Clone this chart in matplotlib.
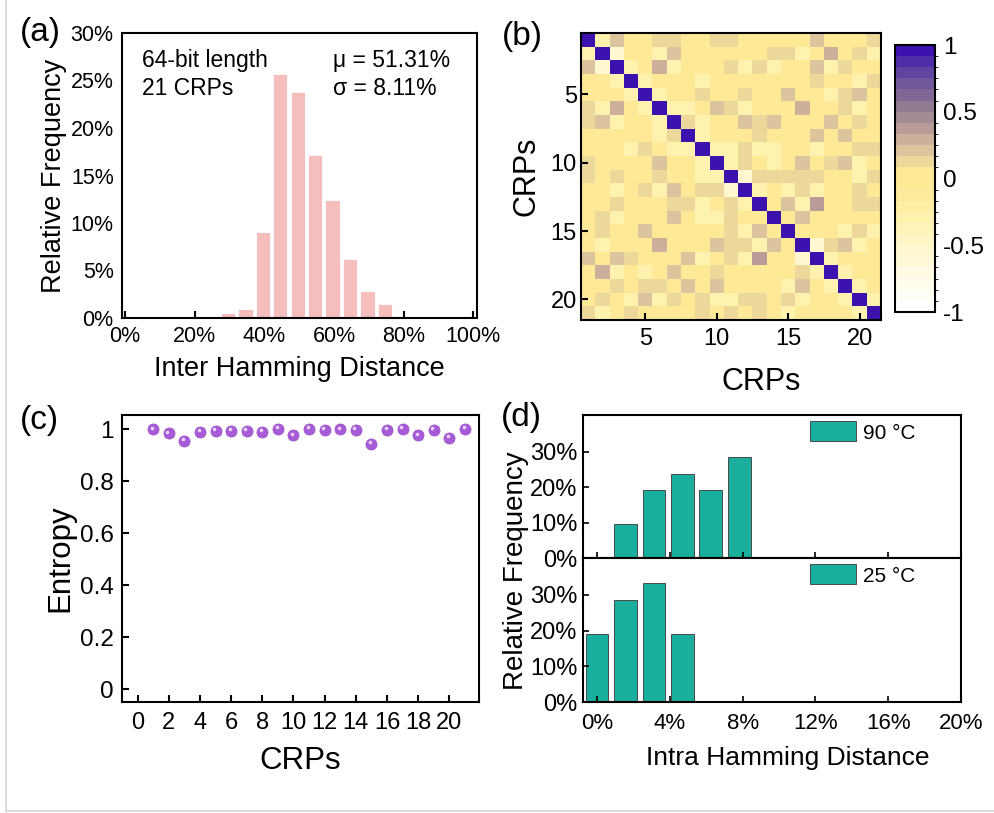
import numpy as np
import matplotlib
matplotlib.use("Agg")
import matplotlib.pyplot as plt
from matplotlib.colors import ListedColormap, BoundaryNorm
from matplotlib.patches import Patch
from matplotlib.lines import Line2D
from matplotlib.transforms import offset_copy

plt.rcParams['font.family'] = ['Liberation Sans', 'DejaVu Sans']
plt.rcParams['axes.linewidth'] = 1.5

# ---------------- data ----------------
# (a) inter Hamming distance histogram (bin centres in %, relative frequency in %)
inter_hd_centers = [29.6, 34.6, 39.6, 44.6, 49.6, 54.6, 59.6, 64.6, 69.6, 74.6]
inter_hd_freq = [0.48, 0.95, 9.05, 25.71, 23.81, 17.14, 12.38, 6.19, 2.86, 1.43]
inter_mu = "51.31%"
inter_sigma = "8.11%"

# (b) correlation between the 21 CRPs
crp_corr = np.array([
    [1.00, -0.28, 0.21, 0.02, 0.02, 0.12, 0.12, 0.02, 0.02, 0.12, 0.12, 0.02, 0.02, 0.02, 0.02, 0.02, 0.21, 0.02, 0.02, 0.02, 0.12],
    [-0.28, 1.00, -0.55, 0.02, 0.02, -0.28, 0.21, 0.02, 0.02, 0.02, 0.02, 0.02, 0.02, 0.12, 0.12, -0.28, 0.02, 0.29, 0.02, 0.12, -0.28],
    [0.21, -0.55, 1.00, -0.28, 0.02, 0.29, -0.28, 0.02, 0.02, 0.02, 0.12, -0.28, 0.12, -0.28, 0.02, 0.02, 0.21, -0.28, 0.12, 0.02, 0.02],
    [0.02, 0.02, -0.28, 1.00, -0.28, 0.02, 0.02, 0.02, -0.28, 0.02, 0.02, 0.02, 0.02, 0.02, 0.02, 0.02, 0.12, 0.02, 0.02, -0.28, 0.12],
    [0.02, 0.02, 0.02, -0.28, 1.00, -0.28, 0.02, 0.02, 0.12, 0.02, 0.02, 0.12, 0.02, 0.02, 0.21, 0.02, 0.02, -0.28, 0.12, 0.21, 0.02],
    [0.12, -0.28, 0.29, 0.02, -0.28, 1.00, -0.28, -0.28, 0.02, 0.21, 0.12, -0.28, 0.02, 0.02, 0.02, 0.29, 0.02, 0.02, 0.12, -0.28, 0.02],
    [0.12, 0.21, -0.28, 0.02, 0.02, -0.28, 1.00, 0.12, -0.28, 0.02, 0.02, 0.21, 0.12, 0.21, 0.02, 0.02, 0.02, 0.21, 0.02, 0.12, 0.02],
    [0.02, 0.02, 0.02, 0.02, 0.02, -0.28, 0.12, 1.00, -0.28, 0.02, 0.02, 0.02, 0.12, 0.02, 0.02, 0.02, 0.21, 0.02, 0.21, 0.02, 0.02],
    [0.02, 0.02, 0.02, -0.28, 0.12, 0.02, -0.28, -0.28, 1.00, -0.28, -0.28, 0.12, -0.28, -0.28, 0.02, 0.02, -0.28, 0.02, 0.02, 0.12, 0.12],
    [0.12, 0.02, 0.02, 0.02, 0.02, 0.21, 0.02, 0.02, -0.28, 1.00, -0.28, 0.12, 0.02, -0.28, 0.02, 0.21, 0.02, 0.12, 0.21, -0.28, 0.02],
    [0.12, 0.02, 0.12, 0.02, 0.02, 0.12, 0.02, 0.02, -0.28, -0.28, 1.00, -0.55, 0.12, 0.12, 0.12, 0.12, 0.12, 0.02, 0.02, -0.28, 0.12],
    [0.02, 0.02, -0.28, 0.02, 0.12, -0.28, 0.21, 0.02, 0.12, 0.12, -0.55, 1.00, -0.28, 0.02, -0.28, 0.12, -0.28, 0.02, 0.02, 0.12, 0.02],
    [0.02, 0.02, 0.12, 0.02, 0.02, 0.02, 0.12, 0.12, -0.28, 0.02, 0.12, -0.28, 1.00, 0.02, 0.21, -0.28, 0.38, 0.02, 0.02, 0.12, 0.12],
    [0.02, 0.12, -0.28, 0.02, 0.02, 0.02, 0.21, 0.02, -0.28, -0.28, 0.12, 0.02, 0.02, 1.00, 0.02, 0.21, 0.02, 0.02, 0.02, 0.02, 0.02],
    [0.02, 0.12, 0.02, 0.02, 0.21, 0.02, 0.02, 0.02, 0.02, 0.02, 0.12, -0.28, 0.21, 0.02, 1.00, 0.02, 0.02, 0.02, -0.28, 0.12, -0.28],
    [0.02, -0.28, 0.02, 0.02, 0.02, 0.29, 0.02, 0.02, 0.02, 0.21, 0.12, 0.12, -0.28, 0.21, 0.02, 1.00, -0.55, 0.12, 0.21, -0.28, 0.02],
    [0.21, 0.02, 0.21, 0.12, 0.02, 0.02, 0.02, 0.21, -0.28, 0.02, 0.12, -0.28, 0.38, 0.02, 0.02, -0.55, 1.00, -0.28, 0.02, 0.02, 0.02],
    [0.02, 0.29, -0.28, 0.02, -0.28, 0.02, 0.21, 0.02, 0.02, 0.12, 0.02, 0.02, 0.02, 0.02, 0.02, 0.12, -0.28, 1.00, -0.28, 0.02, 0.02],
    [0.02, 0.02, 0.12, 0.02, 0.12, 0.12, 0.02, 0.21, 0.02, 0.21, 0.02, 0.02, 0.02, 0.02, -0.28, 0.21, 0.02, -0.28, 1.00, -0.28, 0.02],
    [0.02, 0.12, 0.02, -0.28, 0.21, -0.28, 0.12, 0.02, 0.12, -0.28, -0.28, 0.12, 0.12, 0.02, 0.12, -0.28, 0.02, 0.02, -0.28, 1.00, -0.28],
    [0.12, -0.28, 0.02, 0.12, 0.02, 0.02, 0.02, 0.02, 0.12, 0.02, 0.12, 0.02, 0.12, 0.02, -0.28, 0.02, 0.02, 0.02, 0.02, -0.28, 1.00],
])

# (c) entropy of each CRP
crp_index = list(range(1, 22))
entropy = [0.999, 0.983, 0.955, 0.990, 0.994, 0.994, 0.994, 0.990, 1.000, 0.976, 1.000,
           0.997, 0.999, 0.997, 0.942, 0.997, 1.000, 0.976, 0.997, 0.967, 1.000]

# (d) intra Hamming distance (bit flips out of 64, in %) at two temperatures
intra_hd_90 = [1.5625, 3.125, 4.6875, 6.25, 7.8125]
freq_90 = [9.52, 19.05, 23.81, 19.05, 28.57]
intra_hd_25 = [0.0, 1.5625, 3.125, 4.6875]
freq_25 = [19.05, 28.57, 33.33, 19.05]

# ---------------- figure ----------------
W, H = 995, 813
fig = plt.figure(figsize=(W / 100, H / 100), dpi=100)


def box(x0, y0, x1, y1):
    return [x0 / W, 1 - y1 / H, (x1 - x0) / W, (y1 - y0) / H]


def fx(x):
    return x / W


def fy(y):
    return 1 - y / H


# ---- (a) ----
ax_a = fig.add_axes(box(122, 33, 477, 318))
ax_a.bar(inter_hd_centers, inter_hd_freq, width=4.1, color='#F6BDBD',
         edgecolor='white', linewidth=0.6, zorder=2)
ax_a.set_xlim(-0.9, 101.1)
ax_a.set_ylim(0, 30)
ax_a.set_xticks(range(0, 101, 20))
ax_a.set_xticklabels([f"{v}%" for v in range(0, 101, 20)])
ax_a.set_yticks(range(0, 31, 5))
ax_a.set_yticklabels([f"{v}%" for v in range(0, 31, 5)])
ax_a.tick_params(axis='x', direction='in', length=5, width=1.5, labelsize=15.5, pad=6)
ax_a.tick_params(axis='y', direction='in', length=0, labelsize=15.5, pad=6)
ax_a.set_xlabel("Inter Hamming Distance", fontsize=19.5)
ax_a.xaxis.set_label_coords(0.5, -0.133)
ax_a.set_ylabel("Relative Frequency", fontsize=19.5)
ax_a.yaxis.set_label_coords(-0.155, 0.5)
ax_a.text(0.056, 0.905, "64-bit length", transform=ax_a.transAxes, fontsize=16.5, va='center')
ax_a.text(0.056, 0.807, "21 CRPs", transform=ax_a.transAxes, fontsize=16.5, va='center')
ax_a.text(0.594, 0.905, f"μ = {inter_mu}", transform=ax_a.transAxes, fontsize=16.5, va='center')
ax_a.text(0.594, 0.807, f"σ = {inter_sigma}", transform=ax_a.transAxes, fontsize=16.5, va='center')

# ---- (b) ----
band_colors = [
    '#FFFFFF', '#FFFEF6', '#FFFDEE', '#FFFBE4', '#FFF9DA', '#FFF7D0',
    '#FFF5C6', '#FFF3BA', '#FFF1AE', '#FFEFA4', '#FEEC9E', '#FEEA99',
    '#FEE996', '#EDD89C', '#DCC49E', '#CCB09C', '#B99C98', '#A48C94',
    '#907C90', '#806896', '#70589C', '#6044A2', '#4E2EA8', '#3C12AE',
]
cmap = ListedColormap(band_colors)
norm = BoundaryNorm(np.linspace(-1, 1, len(band_colors) + 1), cmap.N)
ax_b = fig.add_axes(box(581, 33, 881, 320))
n = crp_corr.shape[0]
im = ax_b.imshow(crp_corr, cmap=cmap, norm=norm, aspect='auto',
                 extent=(0.5, n + 0.5, n + 0.5, 0.5), interpolation='nearest')
ax_b.set_xticks([5, 10, 15, 20])
ax_b.set_yticks([5, 10, 15, 20])
ax_b.tick_params(direction='in', length=5, width=1.5, labelsize=17)
ax_b.tick_params(axis='x', pad=6)
ax_b.tick_params(axis='y', pad=3)
ax_b.set_xlabel("CRPs", fontsize=22)
ax_b.xaxis.set_label_coords(0.6, -0.163)
ax_b.set_ylabel("CRPs", fontsize=22)
ax_b.yaxis.set_label_coords(-0.133, 0.5)

cax = fig.add_axes(box(895, 45, 935, 312))
cb = fig.colorbar(im, cax=cax, ticks=[-1, -0.5, 0, 0.5, 1])
cb.ax.set_yticklabels(['-1', '-0.5', '0', '0.5', '1'])
cb.ax.tick_params(length=0, labelsize=17.5, pad=6)
cb.outline.set_linewidth(1.5)

# ---- (c) ----
ax_c = fig.add_axes(box(122, 415, 479, 702))
ax_c.plot(crp_index, entropy, 'o', ms=8, color='#A85BD6', mec='#9A4FCB', mew=0.5, zorder=3)
hl = offset_copy(ax_c.transData, fig=fig, x=-1.0, y=1.2, units='points')
ax_c.plot(crp_index, entropy, 'o', ms=2.6, color='#E9D3F8', mew=0, transform=hl, zorder=4)
ax_c.set_xlim(-1.0, 21.9)
ax_c.set_ylim(-0.05, 1.054)
ax_c.set_xticks(range(0, 21, 2))
ax_c.set_yticks([0, 0.2, 0.4, 0.6, 0.8, 1])
ax_c.set_yticklabels(['0', '0.2', '0.4', '0.6', '0.8', '1'])
ax_c.tick_params(direction='in', length=5, width=1.5)
ax_c.tick_params(axis='x', labelsize=17, pad=7)
ax_c.tick_params(axis='y', labelsize=17.5, pad=6)
ax_c.set_xlabel("CRPs", fontsize=22.5)
ax_c.xaxis.set_label_coords(0.5, -0.153)
ax_c.set_ylabel("Entropy", fontsize=22.5)
ax_c.yaxis.set_label_coords(-0.132, 0.5)

# ---- (d) ----
teal = '#1AAE9C'
ax_d1 = fig.add_axes(box(583, 415, 961, 558))
ax_d2 = fig.add_axes(box(583, 558, 961, 702))
ax_d1.bar(intra_hd_90, freq_90, width=1.25, color=teal, edgecolor='#4A4A4A', linewidth=0.7)
ax_d2.bar(intra_hd_25, freq_25, width=1.25, color=teal, edgecolor='#4A4A4A', linewidth=0.7)
for ax, lab in ((ax_d1, "90 °C"), (ax_d2, "25 °C")):
    ax.set_xlim(-0.77, 20.0)
    ax.set_ylim(0, 40.3)
    ax.set_xticks(range(0, 21, 4))
    ax.set_yticks([0, 10, 20, 30])
    ax.set_yticklabels([f"{v}%" for v in (0, 10, 20, 30)])
    ax.tick_params(direction='in', length=4, width=1.2, labelsize=17, pad=4)
    ax.legend(handles=[Patch(facecolor=teal, edgecolor='#4A4A4A', linewidth=0.7, label=lab)],
              loc='upper left', bbox_to_anchor=(0.60, 0.955), frameon=False,
              fontsize=15, handlelength=2.2, handleheight=1.1, handletextpad=0.35,
              borderpad=0, borderaxespad=0)
ax_d1.tick_params(axis='x', labelbottom=False)
ax_d2.set_xticklabels([f"{v}%" for v in range(0, 21, 4)])
ax_d2.tick_params(axis='x', labelsize=16, pad=8)
fig.text(fx(516), fy(571), "Relative Frequency", rotation=90, fontsize=20,
         ha='center', va='center')
fig.text(fx(788), fy(758), "Intra Hamming Distance", fontsize=19,
         ha='center', va='center')

# ---- panel tags ----
for tag, x, y in (("(a)", 40, 33), ("(b)", 522, 37), ("(c)", 39, 420), ("(d)", 521, 417)):
    fig.text(fx(x), fy(y), tag, fontsize=24, ha='center', va='center')

# thin page border on the left and bottom
fig.add_artist(Line2D([fx(6.5), fx(6.5)], [fy(0), fy(811)], color='#D4D4D4', lw=1.2))
fig.add_artist(Line2D([fx(6.5), fx(995)], [fy(811), fy(811)], color='#D4D4D4', lw=1.2))

fig.savefig("out.png", dpi=100)
